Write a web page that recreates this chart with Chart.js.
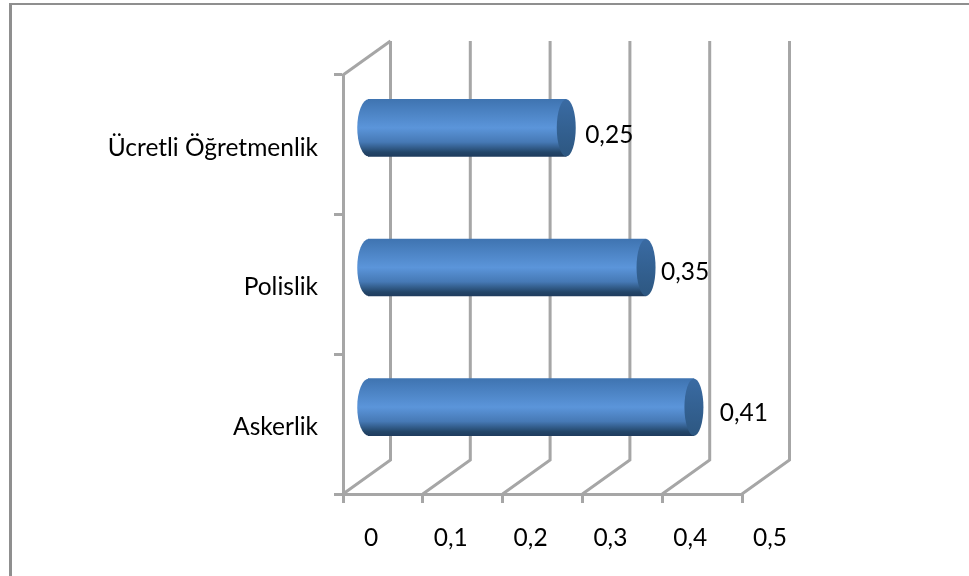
<!DOCTYPE html>
<html>
<head>
<meta charset="utf-8">
<title>Meslekler</title>
<script src="https://cdn.jsdelivr.net/npm/chart.js@4"></script>
<style>
  html, body { margin: 0; padding: 0; background: #fff; }
  #frame { position: absolute; left: 9px; top: 3px; right: 0; bottom: 0; border-top: 2px solid #8f8f8f; border-left: 3px solid #8f8f8f; }
  #chart { position: absolute; left: 0; top: 0; }
</style>
</head>
<body>
<div id="frame"></div>
<canvas id="chart" width="969" height="576"></canvas>
<script>
const categories = ['Ücretli Öğretmenlik', 'Polislik', 'Askerlik'];
const values = [0.25, 0.35, 0.41];
const xTickLabels = ['0', '0,1', '0,2', '0,3', '0,4', '0,5'];

// manual nudges of the value labels, from the end of each bar
const labelShiftX = [43, 39, 50];
const labelShiftY = [7, 5, 6];

const lineGrey = '#a6a6a6';
const textFont = '24.5px Lato';
const depthX = 47.5;
const depthY = -34;
const capRadius = 9.5;

function bodyGradient(ctx, top, bottom) {
    const g = ctx.createLinearGradient(0, top, 0, bottom);
    g.addColorStop(0, '#3f74b1');
    g.addColorStop(0.5, '#5b95da');
    g.addColorStop(0.75, '#4679b5');
    g.addColorStop(0.93, '#234669');
    g.addColorStop(1, '#1f3c5e');
    return g;
}

// back wall, floor diagonals and cylinder ends around the flat bars
const cylinderPlugin = {
    id: 'cylinder',
    beforeDatasetsDraw(chart) {
        const ctx = chart.ctx;
        const x = chart.scales.x;
        const y = chart.scales.y;
        ctx.save();
        ctx.strokeStyle = lineGrey;
        ctx.lineWidth = 3;
        x.ticks.forEach(t => {
            const px = x.getPixelForValue(t.value);
            ctx.beginPath();
            ctx.moveTo(px, y.bottom);
            ctx.lineTo(px + depthX, y.bottom + depthY);
            ctx.lineTo(px + depthX, y.top + depthY);
            ctx.stroke();
        });
        ctx.beginPath();
        ctx.moveTo(x.left, y.top);
        ctx.lineTo(x.left + depthX, y.top + depthY);
        ctx.stroke();

        // rounded left ends, under the bars
        chart.getDatasetMeta(0).data.forEach(bar => {
            const top = bar.y - bar.height / 2;
            const bottom = bar.y + bar.height / 2;
            ctx.save();
            ctx.translate(depthX / 2, depthY / 2);
            ctx.fillStyle = bodyGradient(ctx, top, bottom);
            ctx.beginPath();
            ctx.ellipse(bar.base + 0.5, bar.y, capRadius + 2, bar.height / 2, 0, Math.PI / 2, Math.PI * 1.5);
            ctx.fill();
            ctx.restore();
        });
        ctx.restore();

        // bars sit in the middle of the depth
        ctx.save();
        ctx.translate(depthX / 2, depthY / 2);
    },
    afterDatasetsDraw(chart) {
        const ctx = chart.ctx;
        const bars = chart.getDatasetMeta(0).data;
        bars.forEach(bar => {
            const top = bar.y - bar.height / 2;
            const g = ctx.createLinearGradient(0, top, 0, top + bar.height);
            g.addColorStop(0, '#3a6ba3');
            g.addColorStop(1, '#2d5781');
            ctx.fillStyle = g;
            ctx.beginPath();
            ctx.ellipse(bar.x, bar.y, capRadius, bar.height / 2, 0, 0, Math.PI * 2);
            ctx.fill();
        });
        ctx.restore();

        ctx.save();
        ctx.font = textFont;
        ctx.fillStyle = '#000';
        ctx.textAlign = 'center';
        ctx.textBaseline = 'middle';
        bars.forEach((bar, i) => {
            const text = values[i].toFixed(2).replace('.', ',');
            ctx.fillText(text, bar.x + depthX / 2 + labelShiftX[i], bar.y + depthY / 2 + labelShiftY[i]);
        });
        ctx.restore();
    }
};

const ctx = document.getElementById('chart').getContext('2d');

const myChart = new Chart(ctx, {
    type: 'bar',
    data: {
        labels: categories,
        datasets: [{
            data: values,
            barThickness: 57,
            borderWidth: 0,
            backgroundColor(c) {
                const y = c.chart.scales.y;
                const mid = y && c.dataIndex !== undefined ? y.getPixelForValue(c.dataIndex) : NaN;
                if (!Number.isFinite(mid)) return '#4f81bd';
                return bodyGradient(c.chart.ctx, mid - 28.5, mid + 28.5);
            }
        }]
    },
    options: {
        indexAxis: 'y',
        responsive: false,
        animation: false,
        layout: { padding: { left: 0, right: 227, top: 75, bottom: 0 } },
        plugins: { legend: { display: false }, title: { display: false }, tooltip: { enabled: false } },
        scales: {
            x: {
                min: 0,
                max: 0.5,
                afterFit(s) { s.height = 82; },
                ticks: {
                    stepSize: 0.1,
                    maxRotation: 0,
                    autoSkip: false,
                    labelOffset: 28,
                    padding: 20,
                    color: '#000',
                    font: { family: 'Lato', size: 24.5 },
                    callback: (v, i) => xTickLabels[i]
                },
                grid: { drawOnChartArea: false, color: lineGrey, lineWidth: 3, tickLength: 9 },
                border: { color: lineGrey, width: 3 }
            },
            y: {
                afterFit(s) { s.width = 343; },
                ticks: {
                    padding: 16,
                    labelOffset: 3,
                    color: '#000',
                    font: { family: 'Lato', size: 24.5 }
                },
                grid: { drawOnChartArea: false, color: lineGrey, lineWidth: 3, tickLength: 9 },
                border: { color: lineGrey, width: 3 }
            }
        }
    },
    plugins: [cylinderPlugin]
});
</script>
</body>
</html>
